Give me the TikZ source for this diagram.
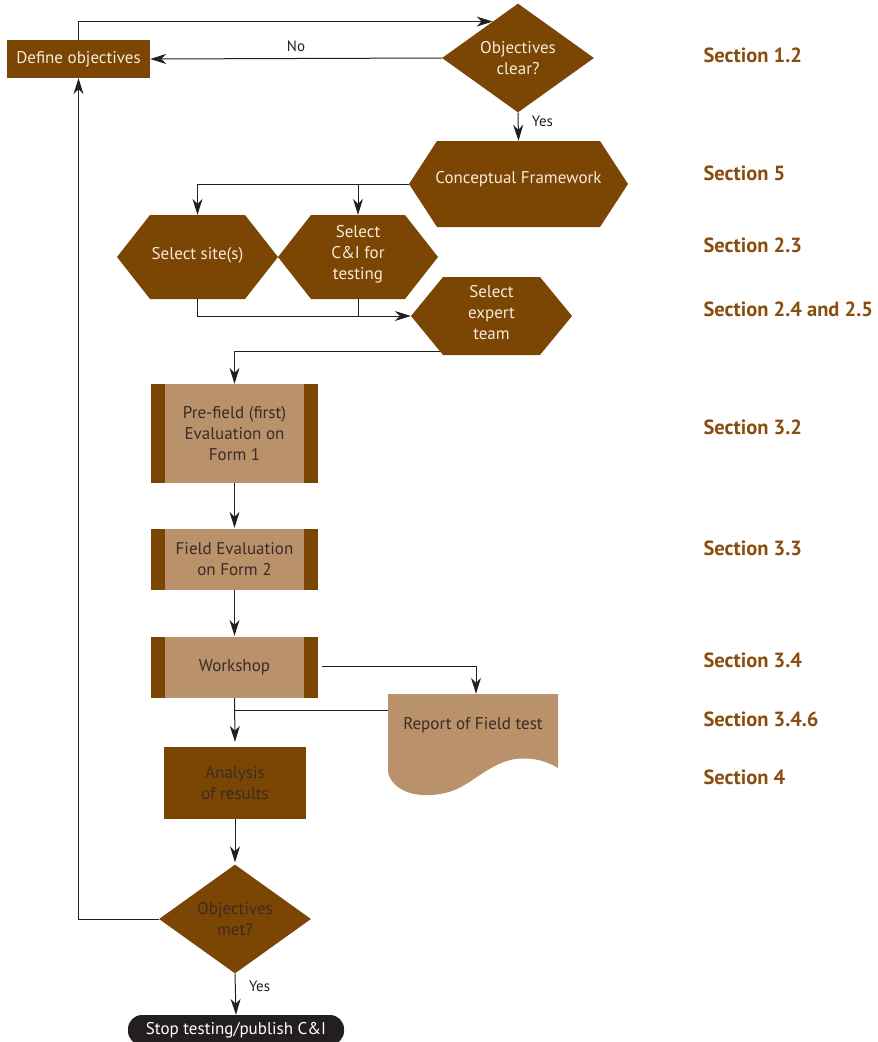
\documentclass[tikz,border=0pt]{standalone}
\usepackage{fontspec}
\setmainfont{PT Sans}
\usetikzlibrary{arrows.meta,calc,shapes.geometric}
\definecolor{darkbrown}{HTML}{7B4503}
\definecolor{lightbrown}{HTML}{B9916B}
\definecolor{secbrown}{HTML}{8A4D10}
\definecolor{ink}{HTML}{231F20}
\definecolor{cream}{HTML}{F5EBDA}
\definecolor{darktext}{HTML}{3A2C24}

% hexagon: name, cx, cy, width, height, tip depth
\newcommand\hexbox[6]{%
  \fill[darkbrown] ({#2-#4/2},#3) -- ({#2-#4/2+#6},{#3-#5/2}) -- ({#2+#4/2-#6},{#3-#5/2})
    -- ({#2+#4/2},#3) -- ({#2+#4/2-#6},{#3+#5/2}) -- ({#2-#4/2+#6},{#3+#5/2}) -- cycle;
  \node[minimum width=#4pt, minimum height=#5pt, inner sep=0pt] (#1) at (#2,#3) {};
  \coordinate (#1-bl) at ({#2-#4/2+#6},{#3+#5/2});}

\begin{document}
\begin{tikzpicture}[x=1pt,y=-1pt,
  line/.style={draw=ink, line width=1pt},
  arr/.style={line, -{Stealth[length=16pt,width=10pt,inset=5pt]}},
  lbl/.style={font=\fontsize{15}{17}\selectfont, text=ink},
  txt/.style={font=\fontsize{17}{21}\selectfont, align=center},
  sec/.style={anchor=west, font=\bfseries\fontsize{20.5}{22}\selectfont, text=secbrown},
  darkbox/.style={txt, fill=darkbrown, inner sep=0pt},
  decision/.style={txt, diamond, fill=darkbrown, inner sep=0pt, minimum width=152pt, minimum height=102pt},
  barbox/.style={txt, fill=lightbrown, text=darktext, inner sep=0pt, minimum width=167pt,
    path picture={
      \fill[darkbrown] (path picture bounding box.north west) rectangle ([xshift=14pt]path picture bounding box.south west);
      \fill[darkbrown] (path picture bounding box.north east) rectangle ([xshift=-14pt]path picture bounding box.south east);}},
]
\useasboundingbox (0,0) rectangle (878,1042);

% --- boxes and decisions ---
\node[darkbox, text=cream, minimum width=143pt, minimum height=38pt] (def) at (78.5,59) {Define objectives};
\node[decision, text=cream] (clear) at (518,58) {Objectives\\clear?};

\hexbox{cf}{518.5}{184}{219}{86}{28}
\node[txt, text=cream] at (518.5,179) {Conceptual Framework};

\hexbox{site}{197.5}{257}{161}{84}{33}
\node[txt, text=cream] at (197.5,255) {Select site(s)};
\hexbox{cai}{358}{257}{160}{84}{33}
\node[txt, text=cream] at (358,254) {Select\\C\&I for\\testing};
\hexbox{exp}{491.5}{316}{161}{78}{32}
\node[txt, text=cream] at (491.5,313) {Select\\expert\\team};

\node[barbox, minimum height=99pt] (pre) at (234.5,433.5) {Pre-field (first)\\Evaluation on\\Form 1};
\node[barbox, minimum height=61pt] (field) at (234.5,559.5) {Field Evaluation\\on Form 2};
\node[barbox, minimum height=61pt] (ws) at (234.5,667.5) {Workshop};

% report document with wavy lower edge
\fill[lightbrown] (388,694) -- (558,694) -- (558,768)
  .. controls (546,761) and (534,757) .. (515,759)
  .. controls (490,763) and (472,784) .. (452,791)
  .. controls (440,795) and (424,797) .. (410,793)
  .. controls (398,789) and (390,782) .. (388,772) -- cycle;
\node[minimum width=170pt, minimum height=102pt, inner sep=0pt] (rep) at (473,745) {};
\node[txt, text=darktext] at (473,725) {Report of Field test};

\node[darkbox, text=darktext, minimum width=142pt, minimum height=72pt] (ana) at (235,783) {Analysis\\of results};
\node[decision, text=darktext] (met) at (235,919) {Objectives\\met?};
\node[txt, fill=ink, text=white, rounded corners=14pt, minimum width=216pt, minimum height=30pt, inner sep=0pt] (stop) at (236,1030) {Stop testing/publish C\&I};

% --- connectors ---
\draw[arr] (def.north) |- ($(clear.west)!0.667!(clear.north)$);
\draw[arr] (clear.west) -- (def.east) node[midway, above=3pt, lbl] {No};
\draw[arr] (clear.south) -- (cf.north) node[pos=0.3, right=10pt, lbl] {Yes};

\draw[arr] (cf.west) -| (site.north);
\draw[arr] (cf.west -| cai.north) -- (cai.north);

\draw[arr] (site.south) |- (exp.west);
\draw[line] (cai.south) -- (cai.south |- exp.west);

\draw[arr] ($(exp.west)!0.92!(exp-bl)$) -| (pre.north);
\draw[arr] (pre.south) -- ([yshift=1pt]field.north);
\draw[arr] (field.south) -- ([yshift=1pt]ws.north);

\draw[arr] ([xshift=4pt,yshift=1pt]ws.east) -| ([xshift=3pt]rep.north);
\coordinate (join) at (234.5,710);
\draw[line] (rep.west |- join) -- (join);
\draw[arr] (ws.south) -- ([yshift=5pt]ana.north);

\draw[arr] (ana.south) -- ([yshift=2pt]met.north);
\draw[arr] (met.west) -| (def.south);
\draw[arr] (met.south) -- (stop.north) node[pos=0.3, right=10pt, lbl] {Yes};

% --- section references ---
\node[sec] at (700,55) {Section 1.2};
\node[sec] at (700,173) {Section 5};
\node[sec] at (700,245) {Section 2.3};
\node[sec] at (700,309) {Section 2.4 and 2.5};
\node[sec] at (700,427) {Section 3.2};
\node[sec] at (700,548) {Section 3.3};
\node[sec] at (700,660) {Section 3.4};
\node[sec] at (700,719) {Section 3.4.6};
\node[sec] at (700,777) {Section 4};
\end{tikzpicture}
\end{document}
